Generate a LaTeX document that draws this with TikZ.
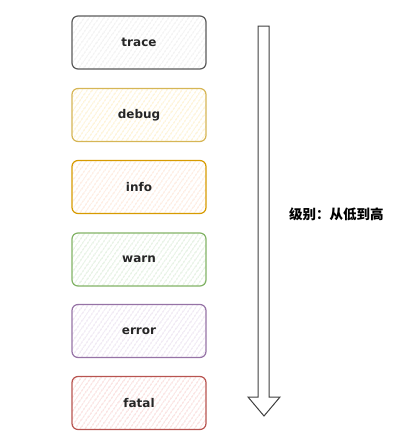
\documentclass[tikz,border=0pt]{standalone}
\usepackage{fontspec}
\setmainfont{DejaVu Sans}
\newfontfamily\cjk{Noto Sans CJK SC}
\usetikzlibrary{patterns.meta}
\definecolor{trD}{HTML}{5A5A5A}\definecolor{trF}{HTML}{E0E0E0}
\definecolor{dbD}{HTML}{D6B656}\definecolor{dbF}{HTML}{FCE3A0}
\definecolor{inD}{HTML}{D79B00}\definecolor{inF}{HTML}{FCD2B8}
\definecolor{waD}{HTML}{82B366}\definecolor{waF}{HTML}{C3E0BE}
\definecolor{erD}{HTML}{9673A6}\definecolor{erF}{HTML}{D9C8E3}
\definecolor{faD}{HTML}{B85450}\definecolor{faF}{HTML}{F3B8B5}
\tikzset{
  level/.style 2 args={draw=#1, line width=1.2pt, rounded corners=6pt,
    minimum width=134pt, minimum height=53pt, inner sep=0pt,
    pattern={Lines[angle=55,distance=4pt,line width=0.7pt]}, pattern color=#2,
    font=\bfseries\fontsize{12}{14}\selectfont, text=black!85},
  bigarrow/.style={draw=black!75, line width=1pt, fill=white, line join=miter}
}
\begin{document}
\begin{tikzpicture}[x=1pt,y=-1pt]
\useasboundingbox (0,0) rectangle (413,434);
\node[level={trD}{trF}] (trace) at (139,42.5) {trace};
\node[level={dbD}{dbF}] (debug) at (139,115) {debug};
\node[level={inD}{inF}] (info) at (139,187) {info};
\node[level={waD}{waF}] (warn) at (139,259.5) {warn};
\node[level={erD}{erF}] (error) at (139,331) {error};
\node[level={faD}{faF}] (fatal) at (139,403) {fatal};
\draw[bigarrow] (258,26) -- (269,26) -- (269,397) -- (280,397) -- (264,416)
  -- (248,397) -- (258,397) -- cycle;
\node[font=\cjk\bfseries\fontsize{13.5}{15}\selectfont, anchor=west, inner sep=0pt] (lbl) at (289,214) {级别：从低到高};
\end{tikzpicture}
\end{document}
